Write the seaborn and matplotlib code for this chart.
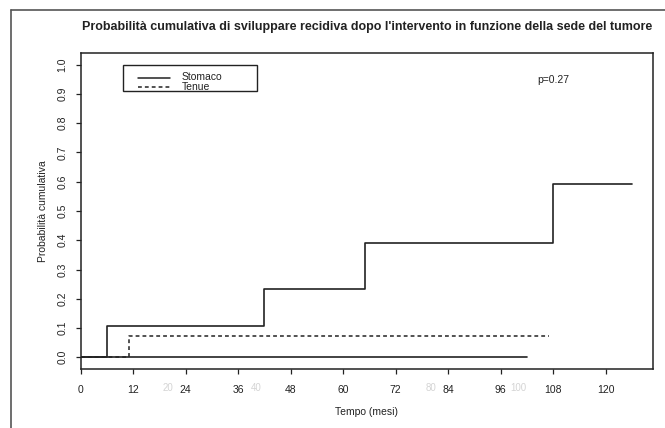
import matplotlib
matplotlib.use("Agg")
import matplotlib.pyplot as plt
from matplotlib.lines import Line2D
from matplotlib.patches import Rectangle
import numpy as np
import pandas as pd
import seaborn as sns

# ---- data ----
stomaco_t = [0, 6, 42, 65, 108, 126]
stomaco_p = [0.0, 0.108, 0.235, 0.39, 0.592, 0.592]
tenue_t = [0, 11, 107]
tenue_p = [0.0, 0.073, 0.073]
base_t = [0, 102]
base_p = [0.0, 0.0]
x_ticks = [0, 12, 24, 36, 48, 60, 72, 84, 96, 108, 120]
y_ticks = [0.0, 0.1, 0.2, 0.3, 0.4, 0.5, 0.6, 0.7, 0.8, 0.9, 1.0]
faint_ticks = [20, 40, 80, 100]
legend_labels = ["Stomaco", "Tenue"]
title = "Probabilità cumulativa di sviluppare recidiva dopo l'intervento in funzione della sede del tumore"
p_text = "p=0.27"

sns.set_style("ticks")
plt.rcParams["font.family"] = ["Liberation Sans", "DejaVu Sans"]

INK = "#222222"
W, H = 665, 428
AX_L, AX_R, AX_T, AX_B = 80.7, 653, 53, 369
fig = plt.figure(figsize=(6.65, 4.28), dpi=100)
ax = fig.add_axes([AX_L / W, 1 - AX_B / H, (AX_R - AX_L) / W, (AX_B - AX_T) / H])


def axf(px, py):
    """pixel position -> axes fraction"""
    return (px - AX_L) / (AX_R - AX_L), (AX_B - py) / (AX_B - AX_T)


df_s = pd.DataFrame({"t": stomaco_t, "p": stomaco_p})
df_t = pd.DataFrame({"t": tenue_t, "p": tenue_p})
df_b = pd.DataFrame({"t": base_t, "p": base_p})

DASH = (0, (2.5, 2))
sns.lineplot(data=df_b, x="t", y="p", ax=ax, color=INK, lw=1.2,
             estimator=None, sort=False, drawstyle="steps-post")
sns.lineplot(data=df_t, x="t", y="p", ax=ax, color=INK, lw=1.1,
             linestyle=DASH, estimator=None, sort=False,
             drawstyle="steps-post")
sns.lineplot(data=df_s, x="t", y="p", ax=ax, color=INK, lw=1.2,
             estimator=None, sort=False, drawstyle="steps-post")

ax.set_xlim(0, 130.8)
ax.set_ylim(-0.04, 1.04)
ax.set_xticks(x_ticks)
ax.set_yticks(y_ticks)
ax.set_xticklabels([str(v) for v in x_ticks], fontsize=7.5, color=INK)
ax.set_yticklabels([f"{v:.1f}" for v in y_ticks], fontsize=7.5, color=INK,
                   rotation=90, va="center")
ax.tick_params(axis="both", direction="out", length=3.5, width=0.9,
               color=INK)
ax.tick_params(axis="x", pad=8)
ax.tick_params(axis="y", pad=6)
for s in ax.spines.values():
    s.set_visible(True)
    s.set_color(INK)
    s.set_linewidth(1.1)

# faint secondary labels visible under the axis
for v in faint_ticks:
    ax.text(v, -0.04 - 19 / 292.4, str(v), ha="center", va="center",
            fontsize=7, color="#d4d4d4", transform=ax.transData,
            clip_on=False)

ax.set_xlabel("Tempo (mesi)", fontsize=7.5, color=INK, labelpad=9)
ax.set_ylabel("Probabilità cumulativa", fontsize=7.5, color=INK, labelpad=7)

# legend box (R style)
x0, y0 = axf(123, 91)
x1, y1 = axf(257, 65)
ax.add_patch(Rectangle((x0, y0), x1 - x0, y1 - y0, transform=ax.transAxes,
                       fill=True, facecolor="white", edgecolor=INK, lw=1.0,
                       zorder=5))
for (py, ls, lab) in [(77.5, "-", legend_labels[0]), (86.5, DASH, legend_labels[1])]:
    lx0, ly = axf(138, py)
    lx1, _ = axf(170, py)
    ax.add_line(Line2D([lx0, lx1], [ly, ly], transform=ax.transAxes,
                       color=INK, lw=1.1, linestyle=ls, zorder=6))
    tx, _ = axf(182, py)
    ax.text(tx, ly, lab, fontsize=7.5, color=INK, ha="left", va="center",
            transform=ax.transAxes, zorder=6)

px, py = axf(537, 80)
ax.text(px, py, p_text, fontsize=7.5, color=INK, ha="left", va="center",
        transform=ax.transAxes)

fig.text((AX_L + AX_R) / 2 / W, 1 - 27 / H, title, fontsize=9,
         fontweight="bold", color=INK, ha="center", va="center")

# outer frame lines of the original page
fig.add_artist(Line2D([11 / W, 11 / W], [0, 1 - 10 / H],
                      transform=fig.transFigure, color="#555555", lw=1.2))
fig.add_artist(Line2D([11 / W, 1], [1 - 10 / H, 1 - 10 / H],
                      transform=fig.transFigure, color="#555555", lw=1.2))

fig.savefig("out.png", dpi=100)
